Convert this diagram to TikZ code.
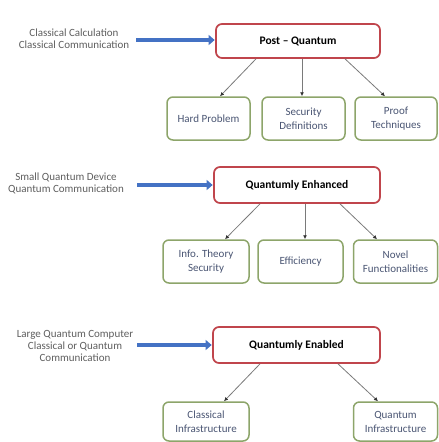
\documentclass[tikz,border=0pt]{standalone}
\usepackage{fontspec}
\setmainfont{Carlito}
\usetikzlibrary{arrows.meta}
\definecolor{headred}{HTML}{C0454C}
\definecolor{leafgreen}{HTML}{8DA56A}
\definecolor{leaftext}{HTML}{4A5573}
\definecolor{sidetext}{HTML}{5E5E5E}
\definecolor{feedblue}{HTML}{4472C4}
\definecolor{linkgrey}{HTML}{7A7A7A}
\tikzset{
  headbox/.style={draw=headred, line width=1.7pt, rounded corners=6pt, fill=white,
    font=\fontsize{11.5}{13}\selectfont\bfseries, text=black, align=center, inner sep=0pt},
  leafbox/.style={draw=leafgreen, line width=1.5pt, rounded corners=6pt, fill=white,
    font=\fontsize{11}{14}\selectfont, text=leaftext, align=center, inner sep=0pt},
  sidelabel/.style={font=\fontsize{11}{12}\selectfont, text=sidetext, align=center, inner sep=0pt},
  feed/.style={draw=feedblue, line width=4.5pt, -{Triangle[length=6pt,width=10pt]}, shorten >=0.5pt},
  link/.style={draw=linkgrey, line width=0.8pt, -{Latex[length=4pt,width=4pt,color=black!80]}}
}
\begin{document}
\begin{tikzpicture}[x=1pt,y=-1pt]
\useasboundingbox (0,0) rectangle (439,442);

% ---- tier 1: post-quantum ----
\node[headbox, minimum width=164pt, minimum height=34pt] (h1) at (298,41) {Post -- Quantum};
\node[leafbox, minimum width=83pt, minimum height=43pt] (a1) at (208.5,118.5) {Hard Problem};
\node[leafbox, minimum width=83pt, minimum height=43pt] (a2) at (303.5,118.5) {Security\\Definitions};
\node[leafbox, minimum width=82pt, minimum height=43pt] (a3) at (396,118.5) {Proof\\Techniques};
\node[sidelabel] (s1) at (74,39) {Classical Calculation\\Classical Communication};
\coordinate (f1) at (136,40);
\draw[feed] (f1) -- (h1.west |- f1);
\draw[link] ([xshift=-42pt]h1.south) -- ([xshift=11.5pt]a1.north);
\draw[link] ([xshift=4pt]h1.south) -- ([xshift=-1.5pt]a2.north);
\draw[link] ([xshift=47pt]h1.south) -- ([xshift=-11pt]a3.north);

% ---- tier 2: quantumly enhanced ----
\node[headbox, minimum width=166pt, minimum height=36pt] (h2) at (297,185) {Quantumly Enhanced};
\node[leafbox, minimum width=86pt, minimum height=43pt] (b1) at (206,261.5) {Info. Theory\\Security};
\node[leafbox, minimum width=85pt, minimum height=43pt] (b2) at (300.5,261.5) {Efficiency};
\node[leafbox, minimum width=84pt, minimum height=43pt] (b3) at (395.5,261.5) {Novel\\Functionalities};
\node[sidelabel] (s2) at (66,183) {Small Quantum Device\\Quantum Communication};
\coordinate (f2) at (137,185);
\draw[feed] (f2) -- (h2.west |- f2);
\draw[link] ([xshift=-37pt]h2.south) -- ([xshift=19pt]b1.north);
\draw[link] ([xshift=8pt]h2.south) -- ([xshift=4.5pt]b2.north);
\draw[link] ([xshift=43pt]h2.south) -- ([xshift=-18.5pt]b3.north);

% ---- tier 3: quantumly enabled ----
\node[headbox, minimum width=167pt, minimum height=36pt] (h3) at (296.5,345) {Quantumly Enabled};
\node[leafbox, minimum width=86pt, minimum height=39pt] (c1) at (206,421.5) {Classical\\Infrastructure};
\node[leafbox, minimum width=84pt, minimum height=39pt] (c2) at (395.5,421.5) {Quantum\\Infrastructure};
\node[sidelabel] (s3) at (75,346) {Large Quantum Computer\\Classical or Quantum\\Communication};
\coordinate (f3) at (137,345);
\draw[feed] (f3) -- (h3.west |- f3);
\draw[link] ([xshift=-36.5pt]h3.south) -- ([xshift=18pt]c1.north);
\draw[link] ([xshift=41.5pt]h3.south) -- ([xshift=-17.5pt]c2.north);
\end{tikzpicture}
\end{document}
